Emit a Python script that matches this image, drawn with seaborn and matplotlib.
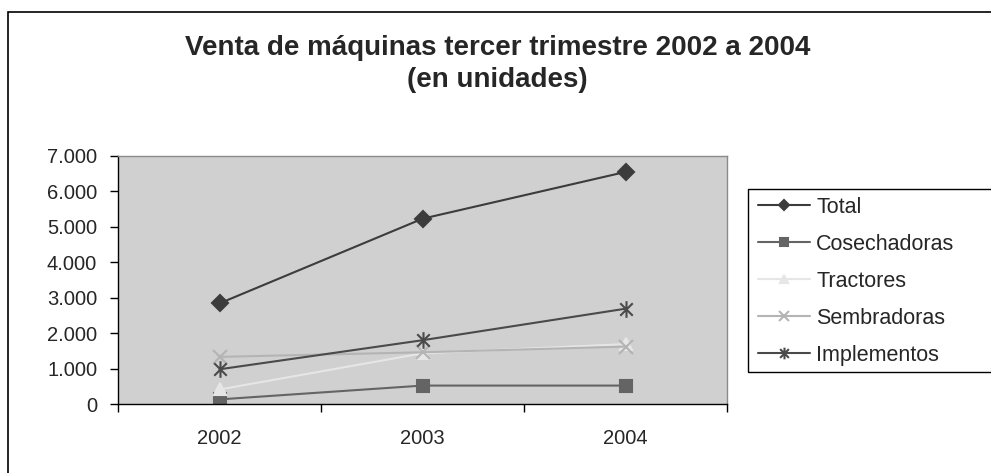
# Venta de maquinas tercer trimestre 2002 a 2004 - line chart
import pandas as pd
import matplotlib.pyplot as plt
import matplotlib.patches as patches
from matplotlib.path import Path
from matplotlib.ticker import FuncFormatter, FixedLocator
import seaborn as sns

# data
years = ["2002", "2003", "2004"]
total = [2840, 5230, 6550]
cosechadoras = [130, 520, 520]
tractores = [410, 1430, 1690]
sembradoras = [1330, 1460, 1620]
implementos = [980, 1800, 2690]

series = ["Total", "Cosechadoras", "Tractores", "Sembradoras", "Implementos"]
values = [total, cosechadoras, tractores, sembradoras, implementos]

# excel style asterisk: an x plus a vertical bar
asterisk = Path([(0, -1), (0, 1), (-0.75, -0.75), (0.75, 0.75), (-0.75, 0.75), (0.75, -0.75)],
                [Path.MOVETO, Path.LINETO] * 3)

colors = {"Total": "#3c3c3c", "Cosechadoras": "#646464", "Tractores": "#e6e6e6",
          "Sembradoras": "#b4b4b4", "Implementos": "#4a4a4a"}
markers = {"Total": "D", "Cosechadoras": "s", "Tractores": "^",
           "Sembradoras": "x", "Implementos": asterisk}
sizes = {"Total": 8, "Cosechadoras": 9, "Tractores": 9, "Sembradoras": 10, "Implementos": 12}

sns.set_style("white")
plt.rcParams["font.family"] = ["Liberation Sans", "DejaVu Sans"]

fig = plt.figure(figsize=(9.91, 4.73), dpi=100)
ax = fig.add_axes([118 / 991, 1 - 404 / 473, (727 - 118) / 991, (404 - 156) / 473])

# one lineplot per series (seaborn won't mix filled and line markers)
for name, vals in zip(series, values):
    d = pd.DataFrame({"year": years, "value": vals})
    sns.lineplot(data=d, x="year", y="value", color=colors[name], marker=markers[name],
                 markersize=sizes[name], markeredgecolor=colors[name],
                 markerfacecolor=colors[name], markeredgewidth=1.5,
                 linewidth=1.5, label=name, ax=ax)

ax.set_facecolor("#d0d0d0")
ax.set_xlim(-0.5, 2.5)
ax.set_ylim(0, 7000)
ax.set_yticks(range(0, 7001, 1000))
ax.yaxis.set_major_formatter(FuncFormatter(lambda v, p: f"{int(v):,}".replace(",", ".")))
ax.xaxis.set_minor_locator(FixedLocator([-0.5, 0.5, 1.5, 2.5]))
ax.tick_params(axis="x", which="major", length=0, pad=18, labelsize=14.5)
ax.tick_params(axis="x", which="minor", length=6, width=1, direction="out", color="black", bottom=True)
ax.tick_params(axis="y", length=6, width=1, direction="out", color="black", left=True, labelsize=14.5, pad=9)
ax.set_xlabel("")
ax.set_ylabel("")

for side in ["top", "right"]:
    ax.spines[side].set_color("#8a8a8a")
    ax.spines[side].set_linewidth(1)
for side in ["left", "bottom"]:
    ax.spines[side].set_color("black")
    ax.spines[side].set_linewidth(1)

# legend (frame drawn by hand, it runs off the right edge in the original)
handles, labels = ax.get_legend_handles_labels()
leg = ax.legend(handles, labels, loc="upper left", bbox_to_anchor=(758 / 991, 1 - 197 / 473),
                bbox_transform=fig.transFigure, fontsize=15.5, frameon=False,
                handlelength=2.4, handletextpad=0.3, labelspacing=0.74, borderpad=0,
                borderaxespad=0)
for h in leg.legend_handles:
    h.set_markersize(h.get_markersize() * 0.7)
fig.patches.append(patches.Rectangle((748 / 991, 1 - 372 / 473), 0.5, (372 - 189) / 473,
                                     transform=fig.transFigure, fill=False,
                                     edgecolor="black", linewidth=1))

fig.suptitle("Venta de máquinas tercer trimestre 2002 a 2004\n(en unidades)",
             x=0.502, y=1 - 35 / 473, fontsize=20, fontweight="bold", linespacing=1.3,
             va="top")

# outer border of the chart area
fig.patches.append(patches.Rectangle((8 / 991, -0.1), 1.2, 0.1 + (473 - 12) / 473,
                                     transform=fig.transFigure, fill=False,
                                     edgecolor="black", linewidth=1.2))

fig.savefig("out.png", dpi=100)
plt.close()
